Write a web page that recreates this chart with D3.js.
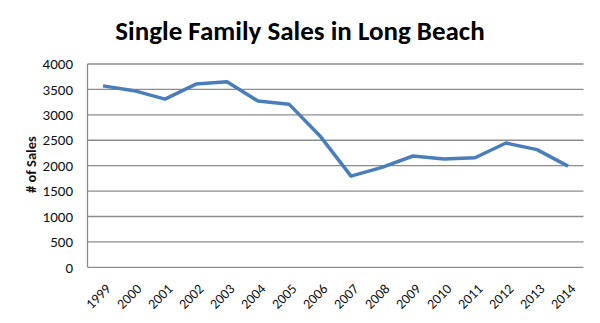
<!DOCTYPE html>
<html><head><meta charset="utf-8">
<script src="https://cdn.jsdelivr.net/npm/d3@7"></script>
<style>body{margin:0;background:#fff}svg{display:block}</style>
</head><body><svg id="c" width="600" height="323"></svg>
<script>
const years = ["1999","2000","2001","2002","2003","2004","2005","2006","2007","2008","2009","2010","2011","2012","2013","2014"];
const sales = [3570,3475,3310,3605,3650,3270,3210,2585,1795,1965,2190,2130,2155,2445,2315,1990];
const yTicks = [0,500,1000,1500,2000,2500,3000,3500,4000];

const svg = d3.select("#c");
const L = 87.5, R = 583.5, T = 64, B = 267.3;
const x = d3.scaleBand().domain(years).range([L, R]);
const y = d3.scaleLinear().domain([0, 4000]).range([B, T]);
const font = "Carlito, 'Open Sans', Calibri, Arial, sans-serif";

svg.append("g").selectAll("line").data(yTicks).join("line")
  .attr("x1", L).attr("x2", R).attr("y1", d => y(d)).attr("y2", d => y(d))
  .attr("stroke", "#8c8c8c").attr("stroke-width", 1.3);
svg.append("line").attr("x1", L).attr("x2", L).attr("y1", T).attr("y2", B)
  .attr("stroke", "#8c8c8c").attr("stroke-width", 1.3);

svg.append("g").selectAll("text").data(yTicks).join("text")
  .attr("x", 73).attr("y", d => y(d)).attr("dy", "0.35em")
  .attr("text-anchor", "end").attr("font-family", font).attr("font-size", 15)
  .attr("fill", "#111").text(d => d);

svg.append("g").selectAll("text").data(years).join("text")
  .attr("transform", d => `translate(${x(d) + x.bandwidth()/2 + 5},${B + 19}) rotate(-45)`)
  .attr("text-anchor", "end").attr("dy", "0.35em").attr("font-family", font).attr("font-size", 14)
  .attr("fill", "#111").text(d => d);

svg.append("text").attr("transform", `translate(31,${(T+B)/2 - 1}) rotate(-90)`)
  .attr("text-anchor", "middle").attr("dy", "0.35em").attr("font-family", font)
  .attr("font-size", 14.5).attr("font-weight", "bold").attr("fill", "#111").text("# of Sales");

svg.append("text").attr("x", 300).attr("y", 31).attr("text-anchor", "middle")
  .attr("dy", "0.35em").attr("font-family", font).attr("font-size", 27).attr("font-weight", "bold")
  .attr("fill", "#000").text("Single Family Sales in Long Beach");

const line = d3.line().x((d, i) => x(years[i]) + x.bandwidth()/2).y(d => y(d));
svg.append("path").datum(sales).attr("d", line).attr("fill", "none")
  .attr("stroke", "#4a7ebb").attr("stroke-width", 3.5).attr("stroke-linejoin", "round");
</script></body></html>
